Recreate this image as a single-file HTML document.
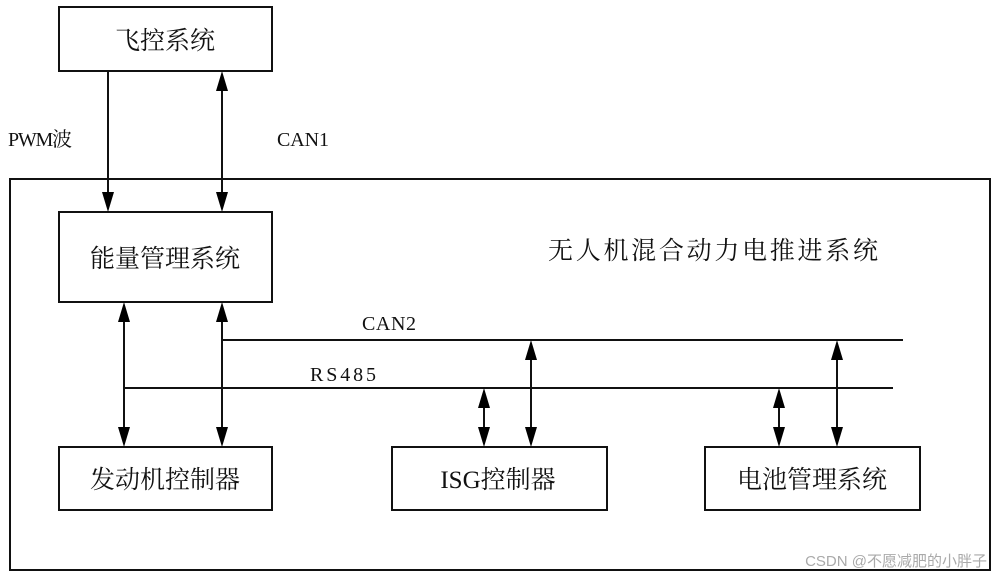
<!DOCTYPE html>
<html><head><meta charset="utf-8"><style>
body{margin:0;background:#fff;}
svg text{font-family:"Liberation Serif","Noto Serif CJK SC",serif;fill:#111;}
</style></head><body>
<svg width="1000" height="579" viewBox="0 0 1000 579" xmlns="http://www.w3.org/2000/svg">
<g fill="none" stroke="#111" stroke-width="2">
<rect x="59" y="7" width="213" height="64"/>
<rect x="10" y="179" width="980" height="391"/>
<rect x="59" y="212" width="213" height="90"/>
<rect x="59" y="447" width="213" height="63"/>
<rect x="392" y="447" width="215" height="63"/>
<rect x="705" y="447" width="215" height="63"/>
<line x1="222" y1="340" x2="903" y2="340"/>
<line x1="124" y1="388" x2="893" y2="388"/>
<line x1="108" y1="71" x2="108" y2="200"/>
<line x1="222" y1="85" x2="222" y2="200"/>
<line x1="124" y1="315" x2="124" y2="435"/>
<line x1="222" y1="315" x2="222" y2="435"/>
<line x1="484" y1="400" x2="484" y2="435"/>
<line x1="531" y1="352" x2="531" y2="435"/>
<line x1="779" y1="400" x2="779" y2="435"/>
<line x1="837" y1="352" x2="837" y2="435"/>
</g>
<g fill="#000">
<polygon points="102,192 114,192 108,212"/>
<polygon points="216,192 228,192 222,212"/>
<polygon points="216,91 228,91 222,71"/>
<polygon points="118,322 130,322 124,302"/>
<polygon points="216,322 228,322 222,302"/>
<polygon points="118,427 130,427 124,447"/>
<polygon points="216,427 228,427 222,447"/>
<polygon points="478,408 490,408 484,388"/>
<polygon points="478,427 490,427 484,447"/>
<polygon points="525,360 537,360 531,340"/>
<polygon points="525,427 537,427 531,447"/>
<polygon points="773,408 785,408 779,388"/>
<polygon points="773,427 785,427 779,447"/>
<polygon points="831,360 843,360 837,340"/>
<polygon points="831,427 843,427 837,447"/>
</g>
<text x="165" y="49" font-size="25" text-anchor="middle">飞控系统</text>
<text x="165" y="267" font-size="25" text-anchor="middle">能量管理系统</text>
<text x="165" y="488" font-size="25" text-anchor="middle">发动机控制器</text>
<text x="498" y="488" font-size="25" text-anchor="middle">ISG控制器</text>
<text x="812" y="488" font-size="25" text-anchor="middle">电池管理系统</text>
<text x="548" y="259" font-size="25" textLength="330">无人机混合动力电推进系统</text>
<text x="8" y="146" font-size="20" textLength="64">PWM波</text>
<text x="277" y="146" font-size="20" textLength="52">CAN1</text>
<text x="362" y="330" font-size="20" textLength="54">CAN2</text>
<text x="310" y="381" font-size="20" textLength="66">RS485</text>
<text x="987" y="566" font-size="15" text-anchor="end" style="font-family:'Liberation Sans','Noto Sans CJK SC',sans-serif;fill:#aaa">CSDN @不愿减肥的小胖子</text>
</svg>
</body></html>
